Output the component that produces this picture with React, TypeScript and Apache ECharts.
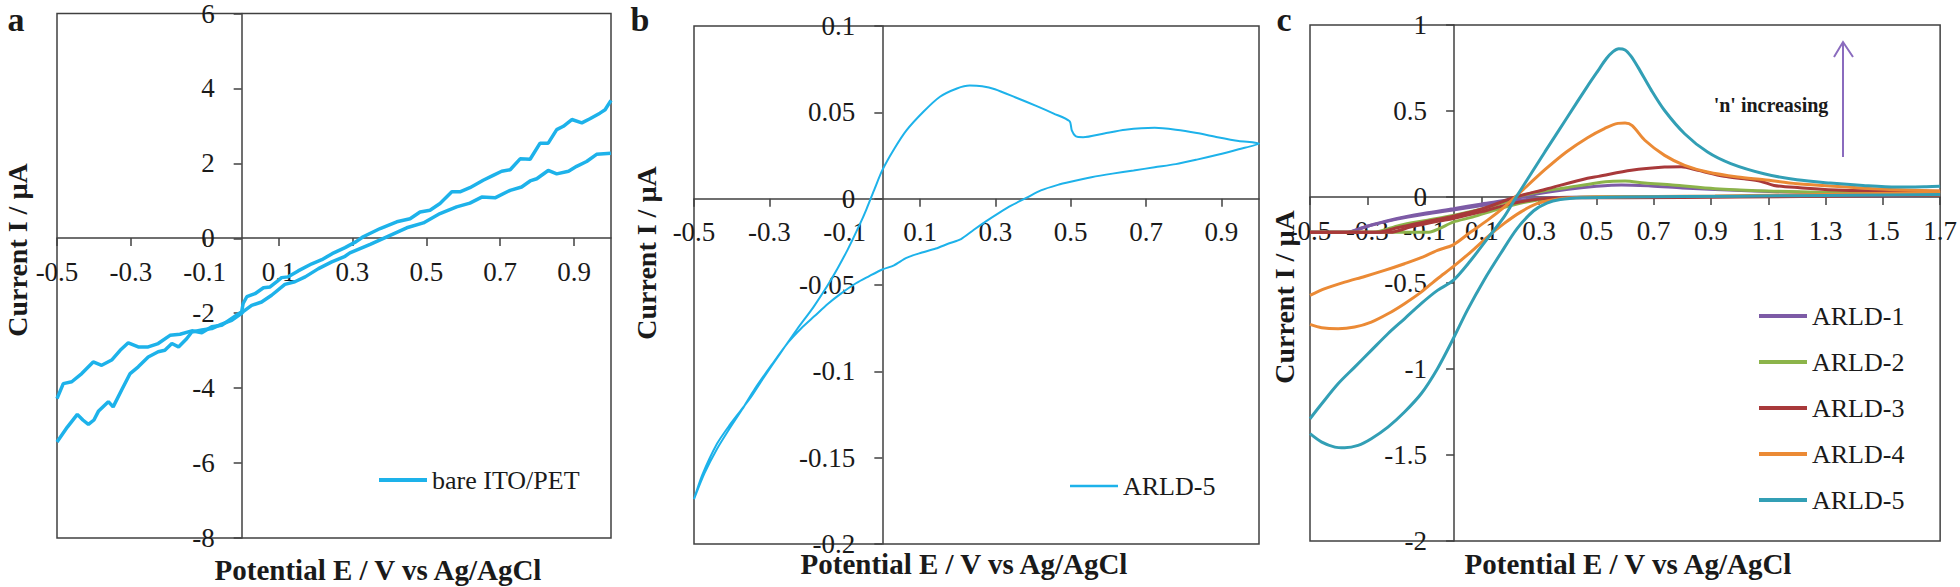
import React, { useEffect, useRef } from 'react';
import * as echarts from 'echarts';

const FONT = 'Liberation Serif';
const TXT = '#1a1a1a';
const AXIS = '#404040';

// ---------- Panel a : bare ITO/PET ----------
const bareScanUpper: [number, number][] = [
  [-0.5, -4.28], [-0.483, -3.88], [-0.46, -3.83], [-0.433, -3.61], [-0.402, -3.3], [-0.379, -3.39],
  [-0.352, -3.25], [-0.329, -2.99], [-0.307, -2.79], [-0.28, -2.9], [-0.253, -2.9], [-0.226, -2.81],
  [-0.194, -2.59], [-0.167, -2.56], [-0.135, -2.47], [-0.108, -2.52], [-0.081, -2.36], [-0.054, -2.32],
  [-0.027, -2.14], [0.0, -1.96], [0.004, -1.74], [0.014, -1.56], [0.036, -1.48], [0.059, -1.32],
  [0.077, -1.3], [0.095, -1.16], [0.108, -1.05], [0.126, -1.03], [0.153, -0.87], [0.19, -0.68],
  [0.217, -0.57], [0.245, -0.41], [0.28, -0.25], [0.31, -0.09], [0.329, 0.04], [0.375, 0.26],
  [0.42, 0.44], [0.456, 0.52], [0.483, 0.7], [0.51, 0.75], [0.537, 0.93], [0.569, 1.24], [0.591, 1.24],
  [0.618, 1.35], [0.654, 1.55], [0.681, 1.68], [0.704, 1.79], [0.727, 1.83], [0.754, 2.12], [0.781, 2.11],
  [0.808, 2.54], [0.83, 2.54], [0.853, 2.9], [0.871, 2.99], [0.894, 3.17], [0.921, 3.08], [0.943, 3.19],
  [0.97, 3.34], [0.984, 3.43], [1.0, 3.68],
];
const bareScanLower: [number, number][] = [
  [-0.5, -5.44], [-0.472, -5.04], [-0.445, -4.7], [-0.43, -4.85], [-0.415, -4.97], [-0.4, -4.85],
  [-0.388, -4.62], [-0.361, -4.36], [-0.348, -4.5], [-0.325, -4.05], [-0.302, -3.61], [-0.28, -3.43],
  [-0.253, -3.17], [-0.226, -3.03], [-0.208, -2.99], [-0.189, -2.81], [-0.171, -2.9], [-0.149, -2.68],
  [-0.135, -2.5], [-0.108, -2.45], [-0.081, -2.41], [-0.054, -2.29], [-0.027, -2.19], [0.0, -2.0],
  [0.004, -1.96], [0.027, -1.79], [0.054, -1.7], [0.081, -1.52], [0.117, -1.23], [0.144, -1.16],
  [0.172, -1.03], [0.208, -0.81], [0.244, -0.63], [0.28, -0.48], [0.293, -0.39], [0.348, -0.16],
  [0.393, 0.04], [0.447, 0.28], [0.492, 0.41], [0.537, 0.66], [0.582, 0.84], [0.618, 0.94], [0.65, 1.1],
  [0.686, 1.08], [0.727, 1.28], [0.758, 1.37], [0.781, 1.53], [0.799, 1.59], [0.83, 1.81], [0.853, 1.72],
  [0.885, 1.79], [0.907, 1.92], [0.934, 2.05], [0.961, 2.24], [1.0, 2.27],
];

// ---------- Panel b : ARLD-5 ----------
const arld5bForward: [number, number][] = [
  [-0.5, -0.174], [-0.472, -0.159], [-0.439, -0.145], [-0.405, -0.133], [-0.372, -0.122], [-0.338, -0.11],
  [-0.293, -0.096], [-0.249, -0.083], [-0.215, -0.075], [-0.18, -0.068], [-0.145, -0.061], [-0.11, -0.055],
  [-0.07, -0.049], [-0.036, -0.045], [0.0, -0.041], [0.031, -0.0386], [0.064, -0.0343], [0.098, -0.0317],
  [0.142, -0.0289], [0.176, -0.026], [0.209, -0.0234], [0.243, -0.018], [0.276, -0.013], [0.31, -0.0082],
  [0.343, -0.0039], [0.382, 0.0004], [0.421, 0.0048], [0.466, 0.008], [0.5, 0.0098], [0.555, 0.0124],
  [0.611, 0.0145], [0.667, 0.0163], [0.723, 0.0182], [0.779, 0.02], [0.835, 0.0226], [0.89, 0.0254],
  [0.946, 0.0286], [1.0, 0.0319],
];
const arld5bReverse: [number, number][] = [
  [-0.5, -0.174], [-0.478, -0.16], [-0.439, -0.142], [-0.405, -0.131], [-0.377, -0.123], [-0.349, -0.115],
  [-0.316, -0.104], [-0.271, -0.0896], [-0.226, -0.0755], [-0.182, -0.0625], [-0.137, -0.0473],
  [-0.092, -0.0295], [-0.059, -0.0145], [-0.042, -0.006], [-0.02, 0.006], [0.0, 0.0165], [0.031, 0.0286],
  [0.064, 0.0395], [0.109, 0.0503], [0.153, 0.059], [0.198, 0.0638], [0.232, 0.0655], [0.265, 0.0651],
  [0.299, 0.0634], [0.354, 0.0586], [0.41, 0.0536], [0.455, 0.0493], [0.497, 0.0449], [0.503, 0.0395],
  [0.513, 0.0362], [0.533, 0.0356], [0.589, 0.0378], [0.645, 0.0399], [0.723, 0.041], [0.779, 0.0399],
  [0.835, 0.038], [0.89, 0.0356], [0.946, 0.0334], [1.0, 0.0319],
];

// ---------- Panel c : ARLD-1..5 ----------
const arld1Up: [number, number][] = [
  [-0.5, -0.205], [-0.37, -0.205], [-0.33, -0.185], [-0.28, -0.16], [-0.2, -0.126], [-0.1, -0.095],
  [0.0, -0.068], [0.1, -0.04], [0.2, -0.015], [0.3, 0.02], [0.395, 0.044], [0.5, 0.062], [0.588, 0.07],
  [0.69, 0.064], [0.8, 0.053], [0.914, 0.044], [1.05, 0.035], [1.21, 0.028], [1.45, 0.024], [1.7, 0.022],
];
const arld1Down: [number, number][] = [
  [-0.5, -0.205], [-0.37, -0.205], [-0.3, -0.17], [-0.2, -0.13], [-0.1, -0.1], [0.0, -0.075], [0.1, -0.05],
  [0.2, -0.025], [0.3, -0.008], [0.4, -0.002], [0.6, 0.0], [1.0, 0.003], [1.7, 0.008],
];
const arld2Up: [number, number][] = [
  [-0.5, -0.205], [-0.28, -0.205], [-0.188, -0.165], [-0.095, -0.136], [0.0, -0.107], [0.1, -0.07],
  [0.2, -0.02], [0.22, 0.0], [0.3, 0.03], [0.395, 0.054], [0.5, 0.082], [0.558, 0.092], [0.6, 0.093],
  [0.669, 0.081], [0.765, 0.07], [0.914, 0.048], [1.062, 0.037], [1.359, 0.026], [1.7, 0.026],
];
const arld2Down: [number, number][] = [
  [-0.5, -0.205], [-0.085, -0.205], [-0.049, -0.184], [0.0, -0.146], [0.067, -0.117], [0.16, -0.068],
  [0.25, -0.03], [0.35, -0.008], [0.5, 0.0], [1.0, 0.004], [1.7, 0.01],
];
const arld3Up: [number, number][] = [
  [-0.5, -0.205], [-0.26, -0.205], [-0.2, -0.18], [-0.1, -0.145], [0.0, -0.112], [0.1, -0.07],
  [0.217, 0.0], [0.32, 0.044], [0.469, 0.109], [0.507, 0.12], [0.622, 0.155], [0.738, 0.174],
  [0.796, 0.176], [0.854, 0.155], [0.946, 0.12], [1.016, 0.106], [1.073, 0.092], [1.12, 0.067],
  [1.21, 0.054], [1.359, 0.039], [1.7, 0.033],
];
const arld3Down: [number, number][] = [
  [-0.5, -0.205], [-0.22, -0.205], [-0.15, -0.175], [-0.05, -0.14], [0.0, -0.125], [0.1, -0.085],
  [0.2, -0.04], [0.3, -0.012], [0.4, -0.004], [0.6, -0.004], [1.0, 0.0], [1.7, 0.01],
];
const arld4Up: [number, number][] = [
  [-0.5, -0.572], [-0.448, -0.533], [-0.379, -0.495], [-0.309, -0.462], [-0.24, -0.427], [-0.17, -0.388],
  [-0.112, -0.353], [-0.055, -0.31], [0.0, -0.278], [0.061, -0.204], [0.119, -0.136], [0.177, -0.06],
  [0.223, 0.01], [0.321, 0.16], [0.395, 0.262], [0.469, 0.345], [0.528, 0.398], [0.575, 0.428],
  [0.6, 0.43], [0.625, 0.415], [0.669, 0.33], [0.738, 0.242], [0.808, 0.184], [0.888, 0.145],
  [0.993, 0.116], [1.085, 0.1], [1.2, 0.077], [1.374, 0.058], [1.507, 0.045], [1.7, 0.035],
];
const arld4Down: [number, number][] = [
  [-0.5, -0.741], [-0.459, -0.76], [-0.402, -0.766], [-0.344, -0.756], [-0.286, -0.727], [-0.228, -0.679],
  [-0.17, -0.62], [-0.112, -0.553], [-0.055, -0.475], [0.0, -0.405], [0.061, -0.32], [0.119, -0.233],
  [0.177, -0.155], [0.235, -0.088], [0.292, -0.039], [0.35, -0.016], [0.4, -0.006], [0.5, 0.0],
  [0.914, 0.006], [1.3, 0.015], [1.7, 0.026],
];
const arld5Up: [number, number][] = [
  [-0.5, -1.289], [-0.459, -1.202], [-0.402, -1.086], [-0.344, -0.989], [-0.286, -0.892], [-0.228, -0.795],
  [-0.17, -0.708], [-0.112, -0.62], [-0.055, -0.543], [0.0, -0.485], [0.061, -0.369], [0.119, -0.243],
  [0.177, -0.117], [0.22, 0.0], [0.281, 0.16], [0.32, 0.262], [0.395, 0.455], [0.469, 0.645], [0.507, 0.738],
  [0.535, 0.805], [0.558, 0.845], [0.578, 0.862], [0.6, 0.855], [0.62, 0.82], [0.645, 0.755], [0.692, 0.62],
  [0.738, 0.503], [0.808, 0.368], [0.888, 0.261], [0.969, 0.194], [1.085, 0.135], [1.2, 0.1],
  [1.316, 0.081], [1.431, 0.067], [1.548, 0.058], [1.652, 0.06], [1.7, 0.062],
];
const arld5Down: [number, number][] = [
  [-0.5, -1.376], [-0.459, -1.425], [-0.413, -1.454], [-0.379, -1.458], [-0.332, -1.444], [-0.286, -1.405],
  [-0.228, -1.338], [-0.17, -1.25], [-0.112, -1.144], [-0.055, -0.998], [0.0, -0.824], [0.049, -0.659],
  [0.107, -0.485], [0.165, -0.33], [0.223, -0.184], [0.281, -0.08], [0.327, -0.035], [0.374, -0.015],
  [0.45, -0.005], [0.6, 0.0], [1.0, 0.005], [1.4, 0.01], [1.7, 0.015],
];

// axis ranges: [min, max, interval]
const aXRange = [-0.5, 1.0, 0.2];
const aYRange = [-8, 6, 2];
const bXRange = [-0.5, 1.0, 0.2];
const bYRange = [-0.2, 0.1, 0.05];
const cXRange = [-0.5, 1.7, 0.2];
const cYRange = [-2, 1, 0.5];

const legendA = ['bare ITO/PET'];
const legendB = ['ARLD-5 (b)'];
const legendC = ['ARLD-1', 'ARLD-2', 'ARLD-3', 'ARLD-4', 'ARLD-5'];

const BLUE = '#1db2ea';
const colorsC = ['#7d5ba6', '#8cb44a', '#a8393a', '#eb8a35', '#329fb5'];

const xTitle = 'Potential E / V vs Ag/AgCl';
const yTitle = 'Current I / µA';

// grid boxes: [left, top, width, height]
const gridBoxes = [
  [57, 13, 554, 525],
  [694, 26, 565, 518],
  [1310, 25, 634, 516],
];

const labelStyle = { fontSize: 27, fontFamily: FONT, color: TXT, fontWeight: 'normal' };

function xAxisFor(gridIndex: number, r: number[], yr: number[], showMax: boolean) {
  const h = gridBoxes[gridIndex][3];
  const zeroFromBottom = (h * (0 - yr[0])) / (yr[1] - yr[0]);
  return {
    type: 'value', gridIndex, min: r[0], max: r[1], interval: r[2], position: 'bottom',
    offset: -zeroFromBottom,
    axisLine: { onZero: false, lineStyle: { color: AXIS, width: 1.5 } },
    axisTick: { show: true, inside: false, length: 8, lineStyle: { color: AXIS, width: 1.5 } },
    axisLabel: {
      ...labelStyle, margin: 20,
      showMinLabel: true, showMaxLabel: showMax,
      formatter: (v: number) => (Math.round(v * 10) / 10).toFixed(1),
    },
    splitLine: { show: false },
  };
}
function yAxisFor(gridIndex: number, r: number[], xr: number[]) {
  const w = gridBoxes[gridIndex][2];
  const zeroFromLeft = (w * (0 - xr[0])) / (xr[1] - xr[0]);
  return {
    type: 'value', gridIndex, min: r[0], max: r[1], interval: r[2], position: 'left',
    offset: -zeroFromLeft,
    axisLine: { onZero: false, lineStyle: { color: AXIS, width: 1.5 } },
    axisTick: { show: true, inside: false, length: 8, lineStyle: { color: AXIS, width: 1.5 } },
    axisLabel: {
      ...labelStyle, margin: 27,
      showMinLabel: true, showMaxLabel: true,
      formatter: (v: number) => String(parseFloat(v.toFixed(2))),
    },
    splitLine: { show: false },
  };
}
function lineSeries(name: string, idx: number, data: [number, number][], color: string, width: number, smooth: number | boolean) {
  return {
    type: 'line', name, xAxisIndex: idx, yAxisIndex: idx, data,
    showSymbol: false, symbol: 'none', smooth,
    lineStyle: { color, width }, itemStyle: { color },
    emphasis: { disabled: true },
  };
}
function legendFor(data: string[], left: number, top: number, h: number) {
  return {
    data, left, top, orient: 'vertical', icon: 'rect', itemWidth: 48, itemHeight: h,
    itemGap: 20, padding: 0, selectedMode: false,
    textStyle: { fontSize: 26, lineHeight: 26, fontFamily: FONT, color: TXT },
    formatter: (n: string) => n.replace(' (b)', ''),
  };
}
function txt(text: string, x: number, y: number, size: number, bold: boolean, rot = 0) {
  return {
    type: 'text', x, y, rotation: rot,
    style: {
      text, fontSize: size, fontWeight: bold ? 'bold' : 'normal', fontFamily: FONT, fill: TXT,
      align: 'center', verticalAlign: 'middle',
    },
  };
}

export default function App() {
  const ref = useRef<HTMLDivElement>(null);
  useEffect(() => {
    document.body.style.margin = '0';
    const chart = echarts.init(ref.current!, undefined, { renderer: 'svg' });
    const cSeries: any[] = [];
    const cData = [
      [arld1Up, arld1Down], [arld2Up, arld2Down], [arld3Up, arld3Down], [arld4Up, arld4Down], [arld5Up, arld5Down],
    ];
    cData.forEach((pair, i) => {
      pair.forEach((d) => cSeries.push(lineSeries(legendC[i], 2, d as [number, number][], colorsC[i], 3, 0.3)));
    });
    const bLoop = [...arld5bForward, ...arld5bReverse.slice().reverse()];
    const option: any = {
      animation: false,
      backgroundColor: '#fff',
      textStyle: { fontFamily: FONT, fontSize: 26, color: TXT },
      grid: gridBoxes.map((g) => ({
        left: g[0], top: g[1], width: g[2], height: g[3], show: true, borderColor: AXIS, borderWidth: 1.5,
        containLabel: false,
      })),
      xAxis: [
        xAxisFor(0, aXRange, aYRange, false),
        xAxisFor(1, bXRange, bYRange, false),
        xAxisFor(2, cXRange, cYRange, true),
      ],
      yAxis: [yAxisFor(0, aYRange, aXRange), yAxisFor(1, bYRange, bXRange), yAxisFor(2, cYRange, cXRange)],
      legend: [
        legendFor(legendA, 379, 467, 4),
        legendFor(legendB, 1070, 473, 2.5),
        legendFor(legendC, 1759, 303, 4),
      ],
      series: [
        lineSeries(legendA[0], 0, bareScanUpper, BLUE, 3.5, false),
        lineSeries(legendA[0], 0, bareScanLower, BLUE, 3.5, false),
        lineSeries(legendB[0], 1, bLoop, BLUE, 2, 0.25),
        ...cSeries,
      ],
      graphic: [
        txt('a', 16, 19, 34, true),
        txt('b', 640, 19, 34, true),
        txt('c', 1284, 19, 34, true),
        txt(xTitle, 378, 570, 29, true),
        txt(xTitle, 964, 564, 29, true),
        txt(xTitle, 1628, 564, 29, true),
        txt(yTitle, 17, 250, 28, true, Math.PI / 2),
        txt(yTitle, 646, 253, 28, true, Math.PI / 2),
        txt(yTitle, 1284, 297, 28, true, Math.PI / 2),
        txt("'n' increasing", 1771, 105, 20, true),
        {
          type: 'polyline', shape: { points: [[1843, 157], [1843, 42]] },
          style: { stroke: '#8a6bbe', lineWidth: 2, fill: 'none' },
        },
        {
          type: 'polyline', shape: { points: [[1834, 57], [1843, 42], [1853, 57]] },
          style: { stroke: '#8a6bbe', lineWidth: 2, fill: 'none' },
        },
      ],
    };
    chart.setOption(option);
    return () => chart.dispose();
  }, []);
  return (
    <div
      ref={ref}
      style={{ width: 1960, height: 587, position: 'absolute', left: 0, top: 0, background: '#fff' }}
    />
  );
}
